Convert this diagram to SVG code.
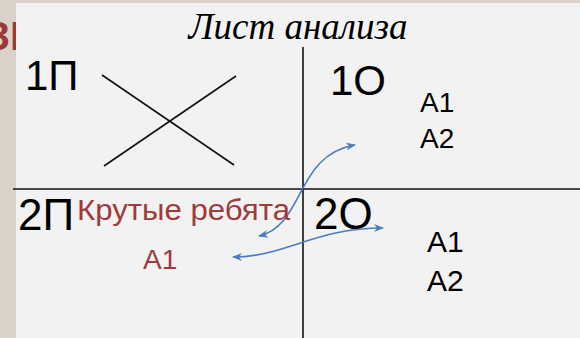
<svg xmlns="http://www.w3.org/2000/svg" width="580" height="338" viewBox="0 0 580 338">
  <style>
    .lbl { font-family: "Liberation Sans", Arial, sans-serif; fill: #000; }
    .red { font-family: "Liberation Sans", Arial, sans-serif; fill: #a03a3a; }
    .grid { stroke: #111; stroke-width: 1.6; fill: none; }
    .arr { stroke: #4a7ebb; stroke-width: 1.6; fill: none; marker-start: url(#ah); marker-end: url(#ah); }
  </style>
  <defs>
    <marker id="ah" viewBox="0 0 10 8" refX="9" refY="4" markerWidth="10" markerHeight="8" markerUnits="userSpaceOnUse" orient="auto-start-reverse">
      <path d="M0,0 L10,4 L0,8 L3,4 z" fill="#4a7ebb"/>
    </marker>
  </defs>
  <rect x="0" y="0" width="580" height="338" fill="#dbd2c9"/>
  <text x="-15" y="50" font-family="Liberation Sans, Arial, sans-serif" font-weight="bold" font-size="40" fill="#9b3a3a">ЗР</text>
  <rect x="16" y="3" width="564" height="335" fill="#f2f2f2"/>

  <g id="connectors">
    <line class="grid" x1="13" y1="189" x2="580" y2="189"/>
    <line class="grid" x1="303" y1="47" x2="303" y2="338"/>
    <line class="grid" x1="102" y1="75" x2="234" y2="165"/>
    <line class="grid" x1="236" y1="76" x2="104" y2="166"/>
    <path class="arr" d="M259,236 C305,225 295,155 355,145"/>
    <path class="arr" d="M233,257 C285,257 315,228 383,228"/>
  </g>

  <g id="title"><text x="298" y="39" text-anchor="middle" font-family="Liberation Serif, Times New Roman, serif" font-style="italic" font-size="37" fill="#000">Лист анализа</text></g>
  <g id="n1P"><text class="lbl" x="25" y="90" font-size="42">1П</text></g>
  <g id="n1O"><text class="lbl" x="330" y="95" font-size="42">1О</text></g>
  <g id="n2P"><text class="lbl" x="18" y="230" font-size="44">2П</text></g>
  <g id="n2O"><text class="lbl" x="314" y="229" font-size="44">2О</text></g>
  <g id="kr"><text class="red" x="77" y="220" font-size="30" textLength="213" lengthAdjust="spacingAndGlyphs">Крутые ребята</text></g>
  <g id="redA1"><text class="red" x="143" y="269" font-size="28">A1</text></g>
  <g id="tA1"><text class="lbl" x="420" y="112" font-size="28">A1</text></g>
  <g id="tA2"><text class="lbl" x="420" y="148" font-size="28">A2</text></g>
  <g id="bA1"><text class="lbl" x="427" y="252" font-size="30">A1</text></g>
  <g id="bA2"><text class="lbl" x="427" y="291" font-size="30">A2</text></g>
</svg>
